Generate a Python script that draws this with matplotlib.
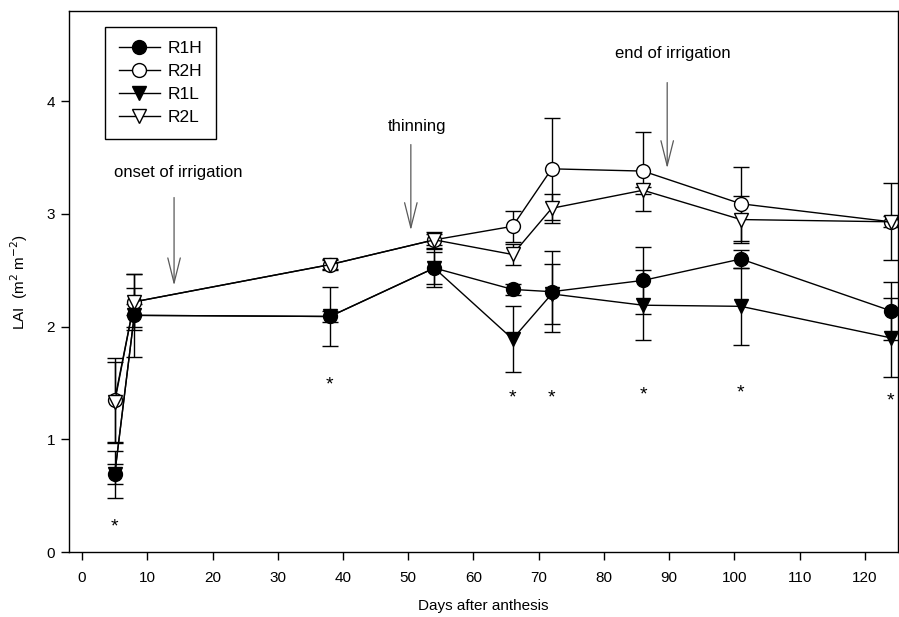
import matplotlib
matplotlib.use("Agg")
import matplotlib.pyplot as plt

plt.rcParams['font.family'] = ['Liberation Sans', 'DejaVu Sans']

# days after anthesis
days = [5, 8, 38, 54, 66, 72, 86, 101, 124]

# LAI means and standard errors
r1h = [0.69, 2.10, 2.09, 2.52, 2.33, 2.31, 2.41, 2.60, 2.14]
r1h_err = [0.21, 0.37, 0.26, 0.17, 0.05, 0.36, 0.30, 0.08, 0.26]
r2h = [1.35, 2.22, 2.55, 2.77, 2.89, 3.40, 3.38, 3.09, 2.93]
r2h_err = [0.37, 0.25, 0.05, 0.07, 0.14, 0.45, 0.35, 0.33, 0.34]
r1l = [0.69, 2.10, 2.09, 2.52, 1.89, 2.29, 2.19, 2.18, 1.90]
r1l_err = [0.09, 0.10, 0.05, 0.14, 0.29, 0.27, 0.31, 0.34, 0.35]
r2l = [1.33, 2.22, 2.55, 2.77, 2.64, 3.05, 3.21, 2.95, 2.93]
r2l_err = [0.36, 0.12, 0.04, 0.05, 0.09, 0.13, 0.03, 0.21, 0.05]

# significance stars
star_days = [5, 38, 66, 72, 86, 101, 124]
star_y = [0.22, 1.48, 1.37, 1.37, 1.39, 1.41, 1.34]

fig = plt.figure(figsize=(8.99, 6.17), dpi=100)
ax = fig.add_axes([0.0768, 0.1053, 0.9222, 0.8768])

series = [
    ("R1H", r1h, r1h_err, 'o', 'black'),
    ("R2H", r2h, r2h_err, 'o', 'white'),
    ("R1L", r1l, r1l_err, 'v', 'black'),
    ("R2L", r2l, r2l_err, 'v', 'white'),
]
for name, vals, errs, mk, fc in series:
    ax.errorbar(days, vals, yerr=errs, fmt='none', ecolor='black',
                elinewidth=1.0, capsize=6, capthick=1.0, zorder=2)
for name, vals, errs, mk, fc in series:
    ax.plot(days, vals, color='black', lw=1.0, marker=mk, markersize=10,
            markerfacecolor=fc, markeredgecolor='black', markeredgewidth=1.0,
            label=name, zorder=3)

for d, s in zip(star_days, star_y):
    ax.text(d, s, '*', ha='center', va='center', fontsize=14)

# annotations
arrow = dict(arrowstyle='->,head_length=1.8,head_width=0.45', color='0.35', lw=0.9)
ax.annotate('', xy=(14.1, 2.34), xytext=(14.1, 3.17), arrowprops=arrow)
ax.annotate('', xy=(50.4, 2.83), xytext=(50.4, 3.64), arrowprops=arrow)
ax.annotate('', xy=(89.7, 3.38), xytext=(89.7, 4.19), arrowprops=arrow)
ax.text(14.7, 3.37, 'onset of irrigation', ha='center', va='center', fontsize=12)
ax.text(51.4, 3.78, 'thinning', ha='center', va='center', fontsize=12)
ax.text(90.6, 4.42, 'end of irrigation', ha='center', va='center', fontsize=12)

ax.set_xlim(-2, 125.1)
ax.set_ylim(0, 4.8)
ax.set_xticks(range(0, 121, 10))
ax.set_yticks([0, 1, 2, 3, 4])
ax.tick_params(direction='out', length=6, width=1.0, labelsize=11, pad=8)
ax.tick_params(axis='y', pad=4)
for sp in ax.spines.values():
    sp.set_linewidth(1.0)

ax.set_xlabel('Days after anthesis', fontsize=11, labelpad=10)
ax.set_ylabel('LAI  (m$^2$ m$^{-2}$)', fontsize=11, labelpad=12)

leg = ax.legend(loc='upper left', bbox_to_anchor=(0.043, 0.97), fontsize=12.5,
                frameon=True, fancybox=False, edgecolor='black', framealpha=1,
                handlelength=2.4, borderpad=0.8, labelspacing=0.45,
                handletextpad=0.4, borderaxespad=0)
leg.get_frame().set_linewidth(1.0)

fig.savefig('out.png', dpi=100)
